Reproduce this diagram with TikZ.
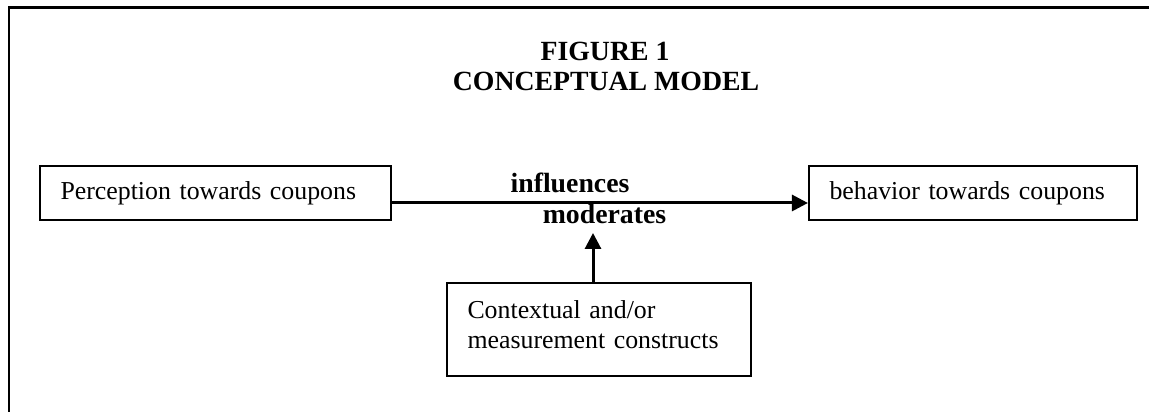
\documentclass[tikz,border=0pt]{standalone}
\usepackage{fontspec}
\setmainfont{Liberation Serif}
\usepackage{tikz}
\usetikzlibrary{arrows.meta, calc, positioning}

\tikzset{
  conbox/.style={draw, line width=1.2pt, align=left, inner xsep=0.4cm, inner ysep=0pt, minimum height=1.08cm, font=\fontsize{14.7}{17.6}\selectfont},
  flow/.style={-{Triangle[length=0.32cm, width=0.32cm]}, line width=1.7pt},
  boldlab/.style={anchor=base, inner sep=0pt, font=\fontsize{15.8}{19}\selectfont\bfseries}
}

\begin{document}
\begin{tikzpicture}[line cap=butt, line join=miter, >=Triangle, scale=1]
    	\useasboundingbox (0,0) rectangle (22.98,8.24);
    	\draw [-,black,line width=1.5pt] (0.18,0)--(0.18,8.09)--(22.98,8.09);

    	\node [boldlab] (fig) at (12.1,7.03) {FIGURE 1};
    	\node [boldlab] (model) at (12.12,6.43) {CONCEPTUAL MODEL};

    	\node [conbox, minimum width=7.02cm, text width=6.2cm] (perc) at (4.31,4.38) {Perception towards coupons};
    	\node [conbox, minimum width=6.56cm, text width=5.74cm] (beh) at (19.46,4.38) {behavior towards coupons};
    	\node [conbox, minimum width=6.08cm, text width=5.26cm, minimum height=1.86cm, text depth=0.8cm] (ctx) at (11.98,1.65)
    		{Contextual and/or\\[-0.02cm]measurement constructs};

    	\node [boldlab] (infl) at (11.4,4.39) {influences};
    	\node [boldlab] (mod) at (12.09,3.76) {moderates};
    	\coordinate (modtip) at (11.86,3.58);

		\draw [flow] ([yshift=-0.2cm]perc.east)--([yshift=-0.2cm]beh.west);
		\draw [flow] (ctx.north -| modtip)--(modtip);
    \end{tikzpicture}
\end{document}
